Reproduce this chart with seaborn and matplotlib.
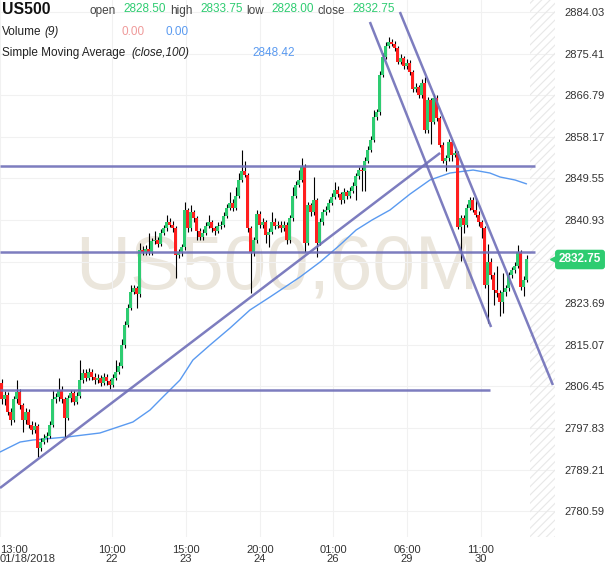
import numpy as np
import pandas as pd
import matplotlib
matplotlib.use("Agg")
import matplotlib.pyplot as plt
from matplotlib.patches import Rectangle
import seaborn as sns

# hourly US500 bars (close, high, low); open of bar 0 given, later opens = prior close
first_open = 2807.25
closes = [
    2803.75, 2804.75, 2801.25, 2799.5, 2803.75, 2805.25, 2802.5, 2799.5, 2801.25, 2798.5,
    2797.5, 2798.25, 2793.75, 2795.0, 2795.75, 2796.25, 2798.5, 2803.75, 2804.25, 2805.75,
    2803.75, 2800.0, 2804.0, 2805.0, 2803.25, 2804.5, 2807.75, 2809.25, 2808.25, 2809.5,
    2808.5, 2807.75, 2808.25, 2807.25, 2808.5, 2807.5, 2806.75, 2808.25, 2809.5, 2810.75,
    2815.0, 2819.25, 2822.75, 2826.0, 2826.75, 2825.5, 2834.75, 2834.25, 2835.0, 2834.25,
    2836.5, 2836.75, 2836.0, 2838.25, 2839.25, 2840.5, 2840.0, 2839.25, 2833.75, 2834.25,
    2835.25, 2843.0, 2839.25, 2842.5, 2841.25, 2838.75, 2837.5, 2838.25, 2839.75, 2840.5,
    2839.25, 2838.75, 2839.75, 2840.0, 2841.75, 2843.5, 2844.5, 2843.5, 2846.0, 2849.25,
    2851.0, 2850.25, 2839.25, 2834.25, 2836.75, 2842.25, 2840.0, 2840.5, 2837.75, 2838.5,
    2840.5, 2839.75, 2840.0, 2839.25, 2840.0, 2836.75, 2841.25, 2846.0, 2848.25, 2849.25,
    2852.0, 2836.25, 2844.0, 2842.5, 2845.0, 2836.25, 2840.5, 2842.5, 2843.0, 2844.5,
    2845.75, 2847.25, 2846.25, 2845.0, 2846.75, 2846.0, 2847.0, 2848.0, 2850.0, 2851.25,
    2851.0, 2853.25, 2855.5, 2857.5, 2862.25, 2863.25, 2871.0, 2874.75, 2877.0, 2877.75,
    2877.5, 2876.5, 2873.75, 2874.5, 2872.75, 2873.5, 2871.5, 2868.0, 2868.5, 2866.75,
    2869.25, 2859.5, 2865.75, 2861.25, 2866.25, 2862.0, 2856.5, 2853.25, 2853.75, 2857.0,
    2854.5, 2854.75, 2839.5, 2841.25, 2840.0, 2843.5, 2845.0, 2843.0, 2842.0, 2840.5,
    2839.25, 2827.5, 2832.25, 2829.5, 2826.5, 2825.75, 2824.0, 2826.0, 2826.75, 2829.5,
    2830.5, 2831.5, 2834.25, 2827.0, 2828.5, 2832.75,
]
highs = [
    2808.0, 2805.5, 2805.25, 2802.0, 2804.5, 2807.75, 2806.0, 2803.0, 2802.0, 2801.75,
    2799.25, 2799.0, 2798.75, 2795.75, 2796.5, 2797.0, 2799.25, 2805.75, 2805.0, 2808.25,
    2806.5, 2804.25, 2804.75, 2805.75, 2805.75, 2805.25, 2812.0, 2810.0, 2810.0, 2810.25,
    2810.0, 2809.25, 2809.0, 2808.75, 2809.25, 2809.0, 2808.0, 2809.0, 2812.0, 2811.5,
    2816.25, 2820.0, 2823.5, 2827.5, 2827.5, 2827.25, 2836.25, 2835.5, 2835.75, 2838.25,
    2837.25, 2838.75, 2837.5, 2839.0, 2840.0, 2842.0, 2841.25, 2840.75, 2839.75, 2835.0,
    2836.0, 2844.75, 2843.5, 2844.0, 2843.0, 2841.75, 2839.25, 2839.0, 2840.5, 2842.0,
    2841.0, 2839.75, 2840.5, 2840.75, 2842.5, 2844.25, 2846.75, 2845.25, 2847.75, 2850.75,
    2855.5, 2853.25, 2850.75, 2839.75, 2837.5, 2843.0, 2842.75, 2841.25, 2841.0, 2839.25,
    2842.5, 2841.25, 2840.75, 2840.75, 2840.75, 2840.5, 2842.0, 2847.75, 2849.0, 2851.25,
    2853.75, 2852.5, 2844.75, 2844.5, 2849.75, 2845.5, 2841.25, 2843.25, 2843.75, 2845.25,
    2846.5, 2848.75, 2848.0, 2846.75, 2847.5, 2847.25, 2847.75, 2848.75, 2850.75, 2852.0,
    2852.0, 2854.0, 2856.25, 2858.25, 2863.75, 2864.0, 2871.75, 2875.5, 2877.75, 2878.75,
    2878.5, 2878.0, 2877.0, 2875.25, 2875.0, 2874.25, 2874.0, 2872.0, 2869.25, 2869.0,
    2870.25, 2870.5, 2866.5, 2866.25, 2867.0, 2866.75, 2862.5, 2857.0, 2854.5, 2857.75,
    2857.5, 2855.5, 2855.25, 2842.0, 2842.0, 2844.25, 2845.75, 2845.75, 2845.5, 2842.75,
    2841.0, 2839.75, 2836.0, 2833.0, 2830.25, 2831.5, 2826.5, 2830.0, 2827.5, 2830.25,
    2831.25, 2832.25, 2835.75, 2834.75, 2829.25, 2833.75,
]
lows = [
    2802.75, 2802.5, 2800.5, 2798.5, 2799.0, 2803.0, 2801.75, 2797.0, 2798.75, 2797.75,
    2796.5, 2796.75, 2791.75, 2793.0, 2794.5, 2795.0, 2795.75, 2798.0, 2803.0, 2803.5,
    2803.0, 2796.0, 2799.5, 2803.25, 2802.5, 2802.75, 2804.0, 2807.25, 2807.5, 2807.75,
    2807.75, 2807.0, 2807.25, 2806.5, 2806.75, 2806.75, 2806.0, 2806.25, 2807.75, 2809.0,
    2810.25, 2814.5, 2818.75, 2822.25, 2825.5, 2822.75, 2825.0, 2833.75, 2833.75, 2833.75,
    2833.75, 2836.0, 2835.25, 2835.5, 2837.75, 2838.75, 2839.5, 2838.5, 2829.0, 2833.0,
    2833.5, 2834.75, 2838.5, 2838.75, 2840.5, 2836.75, 2836.75, 2836.75, 2837.75, 2839.25,
    2838.5, 2837.75, 2838.25, 2839.0, 2839.5, 2841.25, 2843.0, 2842.75, 2843.0, 2845.5,
    2848.75, 2849.75, 2838.5, 2825.75, 2833.5, 2836.25, 2839.25, 2839.25, 2836.25, 2835.25,
    2838.0, 2839.0, 2839.25, 2838.5, 2838.75, 2836.0, 2836.25, 2840.75, 2845.5, 2847.75,
    2848.75, 2834.25, 2835.75, 2841.75, 2842.0, 2833.25, 2835.75, 2840.0, 2842.0, 2842.5,
    2844.0, 2845.25, 2845.75, 2844.25, 2844.5, 2845.25, 2845.5, 2846.5, 2845.0, 2849.5,
    2847.0, 2847.0, 2852.75, 2855.0, 2857.0, 2861.75, 2862.75, 2870.5, 2874.25, 2876.5,
    2877.0, 2876.0, 2873.25, 2873.25, 2872.25, 2872.25, 2871.0, 2867.5, 2867.5, 2866.25,
    2866.25, 2859.0, 2859.0, 2856.75, 2860.75, 2861.5, 2856.0, 2852.75, 2851.0, 2853.25,
    2853.25, 2854.0, 2839.0, 2832.5, 2838.25, 2839.5, 2843.0, 2842.5, 2841.5, 2839.75,
    2837.25, 2826.75, 2819.5, 2828.75, 2823.25, 2825.0, 2821.0, 2821.75, 2825.25, 2826.25,
    2829.0, 2830.0, 2831.0, 2826.5, 2825.25, 2828.0,
]

# simple moving average (close, 100), sampled along the curve
sma_bar = [-0.5, 6.2, 10.5, 21.8, 32.8, 43.8, 49.5, 53.8, 59.5, 63.8, 69.5, 76.2, 82.8, 89.5,
           99.5, 106.2, 112.8, 118.2, 123.5, 129.5, 136.2, 142.8, 149.5, 157.2, 162.8, 166.2,
           171.2, 175.0]
sma_val = [2792.86, 2794.93, 2795.35, 2795.97, 2796.80, 2799.08, 2801.56, 2804.26, 2807.78,
           2811.92, 2815.03, 2818.56, 2822.28, 2824.98, 2829.12, 2832.23, 2835.75, 2838.86,
           2840.93, 2843.01, 2846.32, 2849.22, 2850.67, 2851.29, 2850.67, 2849.84, 2849.22,
           2848.42]

# drawing tools: (bar0, price0, bar1, price1)
hlines = [(-0.5, 2852.12, 177.8, 2852.12),
          (-0.5, 2834.30, 177.8, 2834.30),
          (-0.5, 2805.71, 162.8, 2805.71)]
trendlines = [(-0.5, 2785.40, 146.2, 2854.82),
              (122.8, 2881.96, 163.2, 2818.76),
              (132.8, 2884.03, 183.8, 2806.74)]

price_ticks = [2780.59, 2789.21, 2797.83, 2806.45, 2815.07, 2823.69, 2832.31,
               2840.93, 2849.55, 2858.17, 2866.79, 2875.41, 2884.03]
last_price = 2832.75
time_pos = [-0.5, 36.8, 61.5, 86.2, 110.5, 135.2, 159.8]
time_labels = ["13:00\n01/18/2018", "10:00\n22", "15:00\n23", "20:00\n24",
               "01:00\n26", "06:00\n29", "11:00\n30"]

GREEN = "#2ecc71"
RED = "#ff1f1f"
DRAW = "#6f6fb8"
SMA_C = "#5a9af0"

sns.set_theme(style="white")
plt.rcParams["font.family"] = ["Liberation Sans", "DejaVu Sans"]
plt.rcParams["hatch.linewidth"] = 0.8

W, H = 610, 568
fig = plt.figure(figsize=(W / 100, H / 100), dpi=100)
ax = fig.add_axes([0, 1 - 537 / H, 555 / W, 537 / H])

df = pd.DataFrame({"close": closes, "high": highs, "low": lows})
df["bar"] = np.arange(len(df))
df["open"] = [first_open] + closes[:-1]
up = df["close"] >= df["open"]

ax.vlines(df["bar"], df["low"], df["high"], color="black", lw=0.8, zorder=3)
body_lo = np.minimum(df["open"], df["close"])
body_h = np.maximum((df["close"] - df["open"]).abs(), 0.2)
ax.bar(df["bar"], body_h, bottom=body_lo, width=0.72,
       color=np.where(up, GREEN, RED), lw=0, zorder=4)

sns.lineplot(x=sma_bar, y=sma_val, ax=ax, color=SMA_C, lw=1, zorder=2)

for x0, p0, x1, p1 in hlines + trendlines:
    ax.plot([x0, x1], [p0, p1], color=DRAW, lw=1.8, alpha=0.9, zorder=5,
            solid_capstyle="butt")

ax.set_xlim(-0.5, 184.5)
ax.set_ylim(2775.25, 2886.52)

# watermark
ax.text(277 / W, 1 - 270 / H, "US500,60M", transform=fig.transFigure,
        fontsize=55, color="#ebe6dc", ha="center", va="center", zorder=0.5)

# hatched future area
ax.add_patch(Rectangle((530 / 555, 0), 25 / 555, 1, transform=ax.transAxes,
                       fill=False, hatch="////", edgecolor="#e8e8e8", lw=0, zorder=0.6))

ax.grid(True, color="#f1f1f1", lw=0.8)
ax.yaxis.tick_right()
ax.set_yticks(price_ticks)
# the tick hidden behind the last-price badge gets no label
ax.set_yticklabels(["" if abs(p - last_price) < 2 else f"{p:.2f}" for p in price_ticks])
ax.tick_params(axis="y", length=0, pad=7, labelsize=8, labelcolor="#333333")
ax.set_xticks(time_pos)
ax.set_xticklabels(time_labels)
ax.tick_params(axis="x", length=0, pad=6, labelsize=8, labelcolor="#333333")
for lbl in ax.get_xticklabels():
    lbl.set_linespacing(0.85)
ax.get_xticklabels()[0].set_ha("left")
for s in ax.spines.values():
    s.set_visible(False)

# last price badge
fig.text(580 / W, 1 - 259.5 / H, f"{last_price:.2f}", ha="center", va="center",
         color="white", fontsize=8.5, weight="bold",
         bbox=dict(boxstyle="round,pad=0.32,rounding_size=0.25", fc=GREEN, ec="none"))
ax.plot([553 / W], [1 - 259.5 / H], marker="<", ms=5, color=GREEN,
        transform=fig.transFigure, clip_on=False)


def ftext(x, y, s, **kw):
    fig.text(x / W, 1 - y / H, s, va="baseline", **kw)


ftext(2, 14, "US500", fontsize=11.3, weight="bold", color="#111111")
ftext(90, 14, "open", fontsize=8.5, color="#444444")
ftext(123, 12, "2828.50", fontsize=8.5, color=GREEN)
ftext(170, 14, "high", fontsize=8.5, color="#444444")
ftext(200, 12, "2833.75", fontsize=8.5, color=GREEN)
ftext(246, 14, "low", fontsize=8.5, color="#444444")
ftext(271, 12, "2828.00", fontsize=8.5, color=GREEN)
ftext(318, 14, "close", fontsize=8.5, color="#444444")
ftext(352, 12, "2832.75", fontsize=8.5, color=GREEN)

ftext(2, 35, "Volume", fontsize=8.5, color="#222222")
ftext(44, 35, "(9)", fontsize=8.5, color="#222222", style="italic")
ftext(121, 35, "0.00", fontsize=8.5, color="#ef9a9a")
ftext(166, 35, "0.00", fontsize=8.5, color=SMA_C)

ftext(2, 56, "Simple Moving Average", fontsize=8.5, color="#222222")
ftext(131, 56, "(close,100)", fontsize=8.5, color="#222222", style="italic")
ftext(252, 56, "2848.42", fontsize=8.5, color=SMA_C)

fig.savefig("out.png", dpi=100, facecolor="white")
